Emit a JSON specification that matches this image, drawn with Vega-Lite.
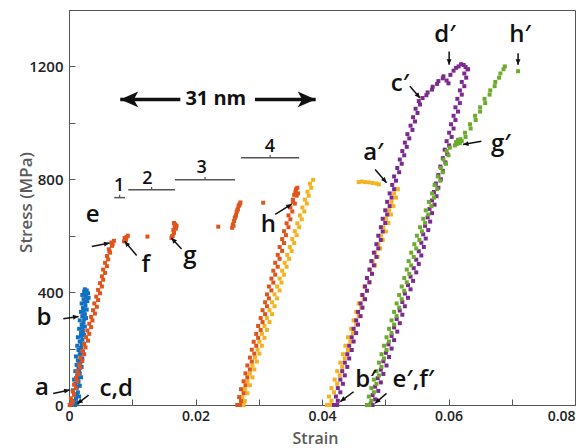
{
"$schema":"https://vega.github.io/schema/vega-lite/v6.json",
"width":506,"height":395,
"autosize":{"type":"none"},
"padding":{"left":69,"top":10,"right":12,"bottom":43},
"background":"white",
"config":{"view":{"stroke":"#555","strokeWidth":1},"font":"Open Sans"},
"datasets":{
"blue":[
{"strain":0.0004,"stress":0},{"strain":0.0010,"stress":0},{"strain":0.0013,"stress":8},{"strain":0.0005,"stress":15},{"strain":0.0011,"stress":22},{"strain":0.0016,"stress":30},{"strain":0.0009,"stress":38},{"strain":0.0014,"stress":45},{"strain":0.0006,"stress":52},{"strain":0.0012,"stress":60},{"strain":0.0017,"stress":68},{"strain":0.0010,"stress":75},{"strain":0.0015,"stress":82},{"strain":0.0008,"stress":90},{"strain":0.0019,"stress":98},{"strain":0.0013,"stress":105},{"strain":0.0017,"stress":112},{"strain":0.0010,"stress":120},{"strain":0.0015,"stress":128},{"strain":0.0020,"stress":135},{"strain":0.0012,"stress":142},{"strain":0.0018,"stress":150},{"strain":0.0014,"stress":158},{"strain":0.0021,"stress":165},{"strain":0.0011,"stress":172},{"strain":0.0017,"stress":180},{"strain":0.0022,"stress":188},{"strain":0.0015,"stress":195},{"strain":0.0019,"stress":202},{"strain":0.0013,"stress":210},{"strain":0.0023,"stress":218},{"strain":0.0017,"stress":225},{"strain":0.0021,"stress":232},{"strain":0.0014,"stress":240},{"strain":0.0024,"stress":248},{"strain":0.0019,"stress":255},{"strain":0.0022,"stress":262},{"strain":0.0016,"stress":270},{"strain":0.0025,"stress":278},{"strain":0.0020,"stress":285},{"strain":0.0023,"stress":292},{"strain":0.0017,"stress":300},{"strain":0.0027,"stress":308},{"strain":0.0021,"stress":315},{"strain":0.0025,"stress":322},{"strain":0.0019,"stress":330},{"strain":0.0028,"stress":338},{"strain":0.0022,"stress":345},{"strain":0.0026,"stress":352},{"strain":0.0020,"stress":360},{"strain":0.0029,"stress":368},{"strain":0.0023,"stress":375},{"strain":0.0027,"stress":382},{"strain":0.0021,"stress":390},{"strain":0.0030,"stress":396},{"strain":0.0024,"stress":402},{"strain":0.0028,"stress":406},{"strain":0.0025,"stress":410},{"strain":0.0025,"stress":395},{"strain":0.0031,"stress":380},
{"strain":0.0008,"stress":10},{"strain":0.0012,"stress":35},{"strain":0.0013,"stress":65},{"strain":0.0014,"stress":95},{"strain":0.0016,"stress":125},{"strain":0.0016,"stress":155},{"strain":0.0019,"stress":185},{"strain":0.0020,"stress":215},{"strain":0.0019,"stress":245},{"strain":0.0021,"stress":275},{"strain":0.0024,"stress":305},{"strain":0.0023,"stress":335},{"strain":0.0025,"stress":365},{"strain":0.0026,"stress":392}
],
"yellow":[
{"strain":0.0271,"stress":0},{"strain":0.0276,"stress":0},{"strain":0.0278,"stress":14},{"strain":0.0274,"stress":28},{"strain":0.0282,"stress":42},{"strain":0.0278,"stress":56},{"strain":0.0286,"stress":70},{"strain":0.0282,"stress":84},{"strain":0.0290,"stress":98},{"strain":0.0286,"stress":112},{"strain":0.0293,"stress":126},{"strain":0.0290,"stress":140},{"strain":0.0297,"stress":154},{"strain":0.0294,"stress":168},{"strain":0.0301,"stress":182},{"strain":0.0298,"stress":196},{"strain":0.0305,"stress":210},{"strain":0.0301,"stress":224},{"strain":0.0309,"stress":238},{"strain":0.0305,"stress":252},{"strain":0.0313,"stress":266},{"strain":0.0309,"stress":280},{"strain":0.0317,"stress":294},{"strain":0.0313,"stress":308},{"strain":0.0321,"stress":322},{"strain":0.0317,"stress":336},{"strain":0.0325,"stress":350},{"strain":0.0321,"stress":364},{"strain":0.0329,"stress":378},{"strain":0.0325,"stress":392},{"strain":0.0333,"stress":406},{"strain":0.0329,"stress":420},{"strain":0.0336,"stress":434},{"strain":0.0333,"stress":448},{"strain":0.0340,"stress":462},{"strain":0.0337,"stress":476},{"strain":0.0344,"stress":490},{"strain":0.0341,"stress":504},{"strain":0.0348,"stress":518},{"strain":0.0345,"stress":532},{"strain":0.0352,"stress":546},{"strain":0.0349,"stress":560},{"strain":0.0356,"stress":574},{"strain":0.0353,"stress":588},{"strain":0.0360,"stress":602},{"strain":0.0357,"stress":616},{"strain":0.0364,"stress":630},{"strain":0.0361,"stress":644},{"strain":0.0368,"stress":658},{"strain":0.0365,"stress":672},{"strain":0.0372,"stress":686},{"strain":0.0369,"stress":700},{"strain":0.0376,"stress":714},{"strain":0.0373,"stress":728},{"strain":0.0379,"stress":742},{"strain":0.0377,"stress":756},{"strain":0.0383,"stress":770},{"strain":0.0381,"stress":784},{"strain":0.0386,"stress":798},
{"strain":0.0408,"stress":0},{"strain":0.0413,"stress":0},{"strain":0.0415,"stress":15},{"strain":0.0411,"stress":30},{"strain":0.0419,"stress":45},{"strain":0.0415,"stress":60},{"strain":0.0424,"stress":75},{"strain":0.0420,"stress":90},{"strain":0.0428,"stress":105},{"strain":0.0424,"stress":120},{"strain":0.0432,"stress":135},{"strain":0.0429,"stress":150},{"strain":0.0436,"stress":165},{"strain":0.0433,"stress":180},{"strain":0.0441,"stress":195},{"strain":0.0437,"stress":210},{"strain":0.0445,"stress":225},{"strain":0.0441,"stress":240},{"strain":0.0449,"stress":255},{"strain":0.0446,"stress":270},{"strain":0.0454,"stress":285},{"strain":0.0450,"stress":300},{"strain":0.0458,"stress":315},{"strain":0.0454,"stress":330},{"strain":0.0462,"stress":345},{"strain":0.0458,"stress":360},{"strain":0.0466,"stress":375},{"strain":0.0463,"stress":390},{"strain":0.0471,"stress":405},{"strain":0.0467,"stress":420},{"strain":0.0475,"stress":435},{"strain":0.0471,"stress":450},{"strain":0.0479,"stress":465},{"strain":0.0476,"stress":480},{"strain":0.0484,"stress":495},{"strain":0.0480,"stress":510},{"strain":0.0488,"stress":525},{"strain":0.0484,"stress":540},{"strain":0.0492,"stress":555},{"strain":0.0489,"stress":570},{"strain":0.0496,"stress":585},{"strain":0.0493,"stress":600},{"strain":0.0501,"stress":615},{"strain":0.0497,"stress":630},{"strain":0.0505,"stress":645},{"strain":0.0501,"stress":660},{"strain":0.0509,"stress":675},{"strain":0.0506,"stress":690},{"strain":0.0513,"stress":705},{"strain":0.0510,"stress":720},{"strain":0.0517,"stress":735},{"strain":0.0514,"stress":750},{"strain":0.0520,"stress":765},
{"strain":0.0458,"stress":790},{"strain":0.0463,"stress":792},{"strain":0.0468,"stress":790},{"strain":0.0474,"stress":789},{"strain":0.0480,"stress":787},{"strain":0.0486,"stress":785},{"strain":0.0490,"stress":782}
],
"orange":[
{"strain":0.0001,"stress":0},{"strain":0.0004,"stress":4},{"strain":0.0006,"stress":12},{"strain":0.0003,"stress":24},{"strain":0.0008,"stress":36},{"strain":0.0006,"stress":48},{"strain":0.0011,"stress":60},{"strain":0.0008,"stress":72},{"strain":0.0013,"stress":84},{"strain":0.0011,"stress":96},{"strain":0.0015,"stress":108},{"strain":0.0013,"stress":120},{"strain":0.0018,"stress":132},{"strain":0.0016,"stress":144},{"strain":0.0021,"stress":156},{"strain":0.0018,"stress":168},{"strain":0.0024,"stress":180},{"strain":0.0021,"stress":192},{"strain":0.0026,"stress":204},{"strain":0.0024,"stress":216},{"strain":0.0030,"stress":228},{"strain":0.0027,"stress":240},{"strain":0.0032,"stress":252},{"strain":0.0029,"stress":264},{"strain":0.0035,"stress":276},{"strain":0.0032,"stress":288},{"strain":0.0037,"stress":300},{"strain":0.0035,"stress":312},{"strain":0.0041,"stress":324},{"strain":0.0038,"stress":336},{"strain":0.0044,"stress":348},{"strain":0.0040,"stress":360},{"strain":0.0046,"stress":372},{"strain":0.0043,"stress":384},{"strain":0.0049,"stress":396},{"strain":0.0046,"stress":408},{"strain":0.0052,"stress":420},{"strain":0.0049,"stress":432},{"strain":0.0054,"stress":444},{"strain":0.0052,"stress":456},{"strain":0.0057,"stress":468},{"strain":0.0054,"stress":480},{"strain":0.0060,"stress":492},{"strain":0.0057,"stress":504},{"strain":0.0062,"stress":516},{"strain":0.0060,"stress":528},{"strain":0.0065,"stress":540},{"strain":0.0063,"stress":552},{"strain":0.0068,"stress":564},{"strain":0.0067,"stress":576},{"strain":0.0071,"stress":582},{"strain":0.0069,"stress":570},{"strain":0.0064,"stress":545},
{"strain":0.0087,"stress":580},{"strain":0.0089,"stress":588},{"strain":0.0091,"stress":595},{"strain":0.0093,"stress":600},{"strain":0.0088,"stress":592},{"strain":0.0090,"stress":585},{"strain":0.0124,"stress":597},
{"strain":0.0162,"stress":592},{"strain":0.0164,"stress":600},{"strain":0.0166,"stress":610},{"strain":0.0165,"stress":620},{"strain":0.0167,"stress":630},{"strain":0.0168,"stress":640},{"strain":0.0166,"stress":645},{"strain":0.0163,"stress":598},{"strain":0.0169,"stress":625},{"strain":0.0170,"stress":635},{"strain":0.0236,"stress":632},
{"strain":0.0258,"stress":628},{"strain":0.0259,"stress":640},{"strain":0.0261,"stress":652},{"strain":0.0262,"stress":662},{"strain":0.0264,"stress":672},{"strain":0.0265,"stress":684},{"strain":0.0267,"stress":694},{"strain":0.0268,"stress":705},{"strain":0.0270,"stress":712},{"strain":0.0271,"stress":718},{"strain":0.0260,"stress":635},{"strain":0.0263,"stress":667},{"strain":0.0266,"stress":690},{"strain":0.0269,"stress":708},{"strain":0.0307,"stress":717},
{"strain":0.0266,"stress":0},{"strain":0.0270,"stress":0},{"strain":0.0272,"stress":14},{"strain":0.0269,"stress":28},{"strain":0.0276,"stress":42},{"strain":0.0272,"stress":56},{"strain":0.0279,"stress":70},{"strain":0.0276,"stress":84},{"strain":0.0282,"stress":98},{"strain":0.0279,"stress":112},{"strain":0.0286,"stress":126},{"strain":0.0282,"stress":140},{"strain":0.0289,"stress":154},{"strain":0.0286,"stress":168},{"strain":0.0293,"stress":182},{"strain":0.0289,"stress":196},{"strain":0.0296,"stress":210},{"strain":0.0292,"stress":224},{"strain":0.0299,"stress":238},{"strain":0.0296,"stress":252},{"strain":0.0303,"stress":266},{"strain":0.0299,"stress":280},{"strain":0.0306,"stress":294},{"strain":0.0303,"stress":308},{"strain":0.0310,"stress":322},{"strain":0.0306,"stress":336},{"strain":0.0313,"stress":350},{"strain":0.0310,"stress":364},{"strain":0.0316,"stress":378},{"strain":0.0313,"stress":392},{"strain":0.0320,"stress":406},{"strain":0.0316,"stress":420},{"strain":0.0323,"stress":434},{"strain":0.0320,"stress":448},{"strain":0.0326,"stress":462},{"strain":0.0323,"stress":476},{"strain":0.0330,"stress":490},{"strain":0.0326,"stress":504},{"strain":0.0333,"stress":518},{"strain":0.0330,"stress":532},{"strain":0.0337,"stress":546},{"strain":0.0333,"stress":560},{"strain":0.0340,"stress":574},{"strain":0.0337,"stress":588},{"strain":0.0343,"stress":602},{"strain":0.0340,"stress":616},{"strain":0.0347,"stress":630},{"strain":0.0344,"stress":644},{"strain":0.0350,"stress":658},{"strain":0.0347,"stress":672},{"strain":0.0353,"stress":686},{"strain":0.0350,"stress":700},{"strain":0.0357,"stress":714},{"strain":0.0354,"stress":728},{"strain":0.0360,"stress":742},{"strain":0.0358,"stress":756},{"strain":0.0361,"stress":770},{"strain":0.0356,"stress":745},{"strain":0.0359,"stress":765},{"strain":0.0354,"stress":720},{"strain":0.0362,"stress":750}
],
"purple":[
{"strain":0.0419,"stress":0},{"strain":0.0424,"stress":0},{"strain":0.0425,"stress":15},{"strain":0.0422,"stress":30},{"strain":0.0429,"stress":45},{"strain":0.0425,"stress":60},{"strain":0.0433,"stress":75},{"strain":0.0429,"stress":90},{"strain":0.0436,"stress":105},{"strain":0.0432,"stress":120},{"strain":0.0440,"stress":135},{"strain":0.0436,"stress":150},{"strain":0.0443,"stress":165},{"strain":0.0440,"stress":180},{"strain":0.0447,"stress":195},{"strain":0.0443,"stress":210},{"strain":0.0450,"stress":225},{"strain":0.0447,"stress":240},{"strain":0.0454,"stress":255},{"strain":0.0450,"stress":270},{"strain":0.0457,"stress":285},{"strain":0.0454,"stress":300},{"strain":0.0461,"stress":315},{"strain":0.0457,"stress":330},{"strain":0.0464,"stress":345},{"strain":0.0461,"stress":360},{"strain":0.0468,"stress":375},{"strain":0.0464,"stress":390},{"strain":0.0471,"stress":405},{"strain":0.0468,"stress":420},{"strain":0.0475,"stress":435},{"strain":0.0471,"stress":450},{"strain":0.0479,"stress":465},{"strain":0.0475,"stress":480},{"strain":0.0482,"stress":495},{"strain":0.0478,"stress":510},{"strain":0.0486,"stress":525},{"strain":0.0482,"stress":540},{"strain":0.0489,"stress":555},{"strain":0.0486,"stress":570},{"strain":0.0493,"stress":585},{"strain":0.0489,"stress":600},{"strain":0.0496,"stress":615},{"strain":0.0493,"stress":630},{"strain":0.0500,"stress":645},{"strain":0.0496,"stress":660},{"strain":0.0503,"stress":675},{"strain":0.0500,"stress":690},{"strain":0.0507,"stress":705},{"strain":0.0503,"stress":720},{"strain":0.0510,"stress":735},{"strain":0.0507,"stress":750},{"strain":0.0514,"stress":765},{"strain":0.0511,"stress":780},{"strain":0.0517,"stress":795},{"strain":0.0514,"stress":810},{"strain":0.0522,"stress":825},{"strain":0.0519,"stress":840},{"strain":0.0526,"stress":855},{"strain":0.0523,"stress":870},{"strain":0.0530,"stress":885},{"strain":0.0527,"stress":900},{"strain":0.0534,"stress":915},{"strain":0.0531,"stress":930},{"strain":0.0538,"stress":945},{"strain":0.0535,"stress":960},{"strain":0.0543,"stress":975},{"strain":0.0540,"stress":990},{"strain":0.0547,"stress":1005},{"strain":0.0544,"stress":1020},{"strain":0.0551,"stress":1035},{"strain":0.0548,"stress":1050},{"strain":0.0555,"stress":1065},{"strain":0.0553,"stress":1077},{"strain":0.0559,"stress":1088},{"strain":0.0565,"stress":1098},{"strain":0.0567,"stress":1108},{"strain":0.0574,"stress":1118},{"strain":0.0575,"stress":1128},{"strain":0.0582,"stress":1138},{"strain":0.0584,"stress":1148},{"strain":0.0591,"stress":1158},{"strain":0.0592,"stress":1165},
{"strain":0.0597,"stress":1150},{"strain":0.0600,"stress":1140},{"strain":0.0603,"stress":1170},{"strain":0.0608,"stress":1185},{"strain":0.0612,"stress":1195},{"strain":0.0616,"stress":1200},{"strain":0.0620,"stress":1208},{"strain":0.0624,"stress":1205},{"strain":0.0627,"stress":1198},{"strain":0.0630,"stress":1190},
{"strain":0.0631,"stress":1190},{"strain":0.0625,"stress":1175},{"strain":0.0628,"stress":1160},{"strain":0.0621,"stress":1145},{"strain":0.0625,"stress":1130},{"strain":0.0618,"stress":1115},{"strain":0.0621,"stress":1100},{"strain":0.0614,"stress":1085},{"strain":0.0618,"stress":1070},{"strain":0.0611,"stress":1055},{"strain":0.0615,"stress":1040},{"strain":0.0608,"stress":1025},{"strain":0.0611,"stress":1010},{"strain":0.0604,"stress":995},{"strain":0.0608,"stress":980},{"strain":0.0601,"stress":965},{"strain":0.0605,"stress":950},{"strain":0.0597,"stress":935},{"strain":0.0601,"stress":920},{"strain":0.0594,"stress":905},{"strain":0.0598,"stress":890},{"strain":0.0591,"stress":875},{"strain":0.0595,"stress":860},{"strain":0.0587,"stress":845},{"strain":0.0591,"stress":830},{"strain":0.0584,"stress":815},{"strain":0.0588,"stress":800},{"strain":0.0580,"stress":785},{"strain":0.0584,"stress":770},{"strain":0.0577,"stress":755},{"strain":0.0581,"stress":740},{"strain":0.0574,"stress":725},{"strain":0.0578,"stress":710},{"strain":0.0570,"stress":695},{"strain":0.0574,"stress":680},{"strain":0.0567,"stress":665},{"strain":0.0571,"stress":650},{"strain":0.0563,"stress":635},{"strain":0.0568,"stress":620},{"strain":0.0560,"stress":605},{"strain":0.0564,"stress":590},{"strain":0.0557,"stress":575},{"strain":0.0561,"stress":560},{"strain":0.0553,"stress":545},{"strain":0.0557,"stress":530},{"strain":0.0549,"stress":515},{"strain":0.0553,"stress":500},{"strain":0.0545,"stress":485},{"strain":0.0549,"stress":470},{"strain":0.0540,"stress":455},{"strain":0.0544,"stress":440},{"strain":0.0536,"stress":425},{"strain":0.0540,"stress":410},{"strain":0.0531,"stress":395},{"strain":0.0536,"stress":380},{"strain":0.0527,"stress":365},{"strain":0.0531,"stress":350},{"strain":0.0523,"stress":335},{"strain":0.0527,"stress":320},{"strain":0.0518,"stress":305},{"strain":0.0523,"stress":290},{"strain":0.0514,"stress":275},{"strain":0.0519,"stress":260},{"strain":0.0510,"stress":245},{"strain":0.0514,"stress":230},{"strain":0.0505,"stress":215},{"strain":0.0510,"stress":200},{"strain":0.0501,"stress":185},{"strain":0.0506,"stress":170},{"strain":0.0497,"stress":155},{"strain":0.0502,"stress":140},{"strain":0.0493,"stress":125},{"strain":0.0497,"stress":110},{"strain":0.0488,"stress":95},{"strain":0.0493,"stress":80},{"strain":0.0484,"stress":65},{"strain":0.0489,"stress":50},{"strain":0.0480,"stress":35},{"strain":0.0484,"stress":20},{"strain":0.0477,"stress":5},{"strain":0.0480,"stress":0}
],
"green":[
{"strain":0.0471,"stress":0},{"strain":0.0475,"stress":0},{"strain":0.0478,"stress":15},{"strain":0.0474,"stress":30},{"strain":0.0482,"stress":45},{"strain":0.0478,"stress":60},{"strain":0.0486,"stress":75},{"strain":0.0482,"stress":90},{"strain":0.0490,"stress":105},{"strain":0.0486,"stress":120},{"strain":0.0494,"stress":135},{"strain":0.0490,"stress":150},{"strain":0.0498,"stress":165},{"strain":0.0494,"stress":180},{"strain":0.0502,"stress":195},{"strain":0.0498,"stress":210},{"strain":0.0506,"stress":225},{"strain":0.0502,"stress":240},{"strain":0.0510,"stress":255},{"strain":0.0506,"stress":270},{"strain":0.0514,"stress":285},{"strain":0.0510,"stress":300},{"strain":0.0518,"stress":315},{"strain":0.0514,"stress":330},{"strain":0.0522,"stress":345},{"strain":0.0518,"stress":360},{"strain":0.0526,"stress":375},{"strain":0.0522,"stress":390},{"strain":0.0530,"stress":405},{"strain":0.0526,"stress":420},{"strain":0.0534,"stress":435},{"strain":0.0530,"stress":450},{"strain":0.0538,"stress":465},{"strain":0.0534,"stress":480},{"strain":0.0541,"stress":495},{"strain":0.0537,"stress":510},{"strain":0.0545,"stress":525},{"strain":0.0541,"stress":540},{"strain":0.0549,"stress":555},{"strain":0.0546,"stress":570},{"strain":0.0554,"stress":585},{"strain":0.0550,"stress":600},{"strain":0.0558,"stress":615},{"strain":0.0555,"stress":630},{"strain":0.0563,"stress":645},{"strain":0.0560,"stress":660},{"strain":0.0568,"stress":675},{"strain":0.0564,"stress":690},{"strain":0.0573,"stress":705},{"strain":0.0569,"stress":720},{"strain":0.0577,"stress":735},{"strain":0.0574,"stress":750},{"strain":0.0582,"stress":765},{"strain":0.0578,"stress":780},{"strain":0.0587,"stress":795},{"strain":0.0583,"stress":810},{"strain":0.0591,"stress":825},{"strain":0.0588,"stress":840},{"strain":0.0596,"stress":855},{"strain":0.0592,"stress":870},{"strain":0.0600,"stress":885},{"strain":0.0597,"stress":900},{"strain":0.0602,"stress":912},
{"strain":0.0610,"stress":920},{"strain":0.0612,"stress":932},{"strain":0.0615,"stress":940},{"strain":0.0618,"stress":928},{"strain":0.0621,"stress":935},{"strain":0.0613,"stress":925},{"strain":0.0619,"stress":942},
{"strain":0.0627,"stress":950},{"strain":0.0626,"stress":965},{"strain":0.0635,"stress":980},{"strain":0.0634,"stress":995},{"strain":0.0643,"stress":1010},{"strain":0.0642,"stress":1025},{"strain":0.0650,"stress":1040},{"strain":0.0650,"stress":1055},{"strain":0.0658,"stress":1070},{"strain":0.0657,"stress":1085},{"strain":0.0665,"stress":1100},{"strain":0.0666,"stress":1115},{"strain":0.0673,"stress":1130},{"strain":0.0674,"stress":1145},{"strain":0.0680,"stress":1160},{"strain":0.0682,"stress":1175},{"strain":0.0687,"stress":1190},{"strain":0.0689,"stress":1200},{"strain":0.0710,"stress":1183}
],
"arrows":[
{"kind":"small","strain":-0.0025,"stress":41,"strain2":0.0001,"stress2":53},
{"kind":"small","strain":-0.0009,"stress":306,"strain2":0.0015,"stress2":314},
{"kind":"small","strain":0.0031,"stress":35,"strain2":0.0013,"stress2":4},
{"kind":"small","strain":0.0036,"stress":562,"strain2":0.0064,"stress2":574},
{"kind":"small","strain":0.0107,"stress":530,"strain2":0.0088,"stress2":580},
{"kind":"small","strain":0.0178,"stress":553,"strain2":0.0162,"stress2":592},
{"kind":"small","strain":0.0326,"stress":676,"strain2":0.0352,"stress2":712},
{"kind":"small","strain":0.0484,"stress":835,"strain2":0.0502,"stress2":788},
{"kind":"small","strain":0.0450,"stress":47,"strain2":0.0429,"stress2":12},
{"kind":"small","strain":0.0502,"stress":41,"strain2":0.0484,"stress2":6},
{"kind":"small","strain":0.0539,"stress":1130,"strain2":0.0555,"stress2":1088},
{"kind":"small","strain":0.0601,"stress":1253,"strain2":0.0601,"stress2":1206},
{"kind":"small","strain":0.0710,"stress":1247,"strain2":0.0710,"stress2":1206},
{"kind":"small","strain":0.0652,"stress":935,"strain2":0.0623,"stress2":923},
{"kind":"big","strain":0.0176,"stress":1083,"strain2":0.0081,"stress2":1083},
{"kind":"big","strain":0.0294,"stress":1083,"strain2":0.0390,"stress2":1083}
],
"brackets":[
{"strain":0.00716,"strain2":0.00885,"stress":735},
{"strain":0.00938,"strain2":0.01676,"stress":763},
{"strain":0.01676,"strain2":0.02625,"stress":798},
{"strain":0.0272,"strain2":0.0364,"stress":876}
],
"letters":[
{"text":"a","strain":-0.00427,"stress":35},
{"text":"b","strain":-0.00395,"stress":284},
{"text":"c,d","strain":0.00748,"stress":32},
{"text":"e","strain":0.00374,"stress":647},
{"text":"f","strain":0.01215,"stress":470},
{"text":"g","strain":0.01913,"stress":502},
{"text":"h","strain":0.03151,"stress":612},
{"text":"a′","strain":0.04811,"stress":867},
{"text":"b′","strain":0.04693,"stress":65},
{"text":"e′,f′","strain":0.05444,"stress":65},
{"text":"c′","strain":0.05233,"stress":1114},
{"text":"d′","strain":0.05945,"stress":1286},
{"text":"h′","strain":0.07130,"stress":1286},
{"text":"g′","strain":0.06827,"stress":900}
],
"numbers":[
{"text":"1","strain":0.00793,"stress":759},
{"text":"2","strain":0.01241,"stress":782},
{"text":"3","strain":0.02098,"stress":824},
{"text":"4","strain":0.03178,"stress":898}
],
"span":[{"text":"31 nm","strain":0.02321,"stress":1065}]
},
"layer":[
{"data":{"name":"blue"},"mark":{"type":"point","shape":"square","filled":true,"size":16,"opacity":1,"color":"#1170c0"},
 "encoding":{
  "x":{"field":"strain","type":"quantitative","scale":{"domain":[0,0.08],"nice":false,"zero":false},
   "axis":{"title":"Strain","values":[0,0.01,0.02,0.03,0.04,0.05,0.06,0.07,0.08],"labelExpr":"datum.value == 0 ? '0' : (round(datum.value*100) % 2 == 0 ? format(datum.value, '.2f') : '')","labelAlign":{"condition":{"test":"datum.value >= 0.079","value":"right"},"value":"center"},"grid":false,"tickSize":-6,"labelPadding":10,"labelFlush":false,"labelOverlap":false,"labelFontSize":14,"labelFontWeight":600,"labelColor":"#222","domainColor":"#555","tickColor":"#555","titleFontSize":16,"titleFontWeight":600,"titleColor":"#5a5a5a","titleX":246,"titleY":38,"titleBaseline":"alphabetic","titleAlign":"center"}},
  "y":{"field":"stress","type":"quantitative","scale":{"domain":[0,1400],"nice":false},
   "axis":{"title":"Stress (MPa)","values":[0,200,400,600,800,1000,1200],"labelExpr":"datum.value % 400 == 0 ? format(datum.value, 'd') : ''","grid":false,"tickSize":-6,"labelPadding":12,"labelFlush":false,"labelOverlap":false,"labelFontSize":15,"labelFontWeight":600,"labelColor":"#222","domainColor":"#555","tickColor":"#555","titleFontSize":17,"titleFontWeight":600,"titleColor":"#5a5a5a","titleX":-38,"titleY":192,"titleBaseline":"alphabetic","titleAlign":"center","titleAngle":-90}}
 }},
{"data":{"name":"yellow"},"mark":{"type":"point","shape":"square","filled":true,"size":16,"opacity":1,"color":"#f5b21f"},
 "encoding":{"x":{"field":"strain","type":"quantitative"},"y":{"field":"stress","type":"quantitative"}}},
{"data":{"name":"orange"},"mark":{"type":"point","shape":"square","filled":true,"size":16,"opacity":1,"color":"#e0541c"},
 "encoding":{"x":{"field":"strain","type":"quantitative"},"y":{"field":"stress","type":"quantitative"}}},
{"data":{"name":"purple"},"mark":{"type":"point","shape":"square","filled":true,"size":16,"opacity":1,"color":"#7b2a8f"},
 "encoding":{"x":{"field":"strain","type":"quantitative"},"y":{"field":"stress","type":"quantitative"}}},
{"data":{"name":"green"},"mark":{"type":"point","shape":"square","filled":true,"size":16,"opacity":1,"color":"#6cab2c"},
 "encoding":{"x":{"field":"strain","type":"quantitative"},"y":{"field":"stress","type":"quantitative"}}},
{"data":{"name":"brackets"},"mark":{"type":"rule","color":"#555","strokeWidth":1.5},
 "encoding":{"x":{"field":"strain","type":"quantitative"},"x2":{"field":"strain2"},"y":{"field":"stress","type":"quantitative"}}},
{"data":{"name":"brackets"},"transform":[{"calculate":"(datum.strain + datum.strain2) / 2","as":"mid"},{"calculate":"datum.stress + 10","as":"top"}],
 "mark":{"type":"rule","color":"#555","strokeWidth":1.2},
 "encoding":{"x":{"field":"mid","type":"quantitative"},"y":{"field":"stress","type":"quantitative"},"y2":{"field":"top"}}},
{"data":{"name":"arrows"},"transform":[{"filter":"datum.kind == 'small'"}],"mark":{"type":"rule","color":"#111","strokeWidth":1.5},
 "encoding":{"x":{"field":"strain","type":"quantitative"},"y":{"field":"stress","type":"quantitative"},"x2":{"field":"strain2"},"y2":{"field":"stress2"}}},
{"data":{"name":"arrows"},"transform":[{"filter":"datum.kind == 'big'"}],"mark":{"type":"rule","color":"#111","strokeWidth":3.5},
 "encoding":{"x":{"field":"strain","type":"quantitative"},"y":{"field":"stress","type":"quantitative"},"x2":{"field":"strain2"},"y2":{"field":"stress2"}}},
{"data":{"name":"arrows"},"transform":[{"filter":"datum.kind == 'small'"},{"calculate":"atan2(-(datum.stress2 - datum.stress) * 0.2821, (datum.strain2 - datum.strain) * 6325) * 180 / PI","as":"ang"}],
 "mark":{"type":"point","shape":"M0,0L-2,-0.9L-2,0.9Z","filled":true,"color":"#111","opacity":1,"size":30},
 "encoding":{"x":{"field":"strain2","type":"quantitative"},"y":{"field":"stress2","type":"quantitative"},"angle":{"field":"ang","type":"quantitative","scale":null}}},
{"data":{"name":"arrows"},"transform":[{"filter":"datum.kind == 'big'"},{"calculate":"atan2(-(datum.stress2 - datum.stress) * 0.2821, (datum.strain2 - datum.strain) * 6325) * 180 / PI","as":"ang"}],
 "mark":{"type":"point","shape":"M0,0L-2,-0.87L-1.5,0L-2,0.87Z","filled":true,"color":"#111","opacity":1,"size":324},
 "encoding":{"x":{"field":"strain2","type":"quantitative"},"y":{"field":"stress2","type":"quantitative"},"angle":{"field":"ang","type":"quantitative","scale":null}}},
{"data":{"name":"letters"},"mark":{"type":"text","font":"Open Sans","fontSize":24,"fontWeight":600,"color":"#111","align":"center","baseline":"alphabetic"},
 "encoding":{"x":{"field":"strain","type":"quantitative"},"y":{"field":"stress","type":"quantitative"},"text":{"field":"text"}}},
{"data":{"name":"numbers"},"mark":{"type":"text","font":"Open Sans","fontSize":18,"fontWeight":600,"color":"#111","align":"center","baseline":"alphabetic"},
 "encoding":{"x":{"field":"strain","type":"quantitative"},"y":{"field":"stress","type":"quantitative"},"text":{"field":"text"}}},
{"data":{"name":"span"},"mark":{"type":"text","font":"Open Sans","fontSize":20,"fontWeight":700,"color":"#111","align":"center","baseline":"alphabetic"},
 "encoding":{"x":{"field":"strain","type":"quantitative"},"y":{"field":"stress","type":"quantitative"},"text":{"field":"text"}}}
]
}
